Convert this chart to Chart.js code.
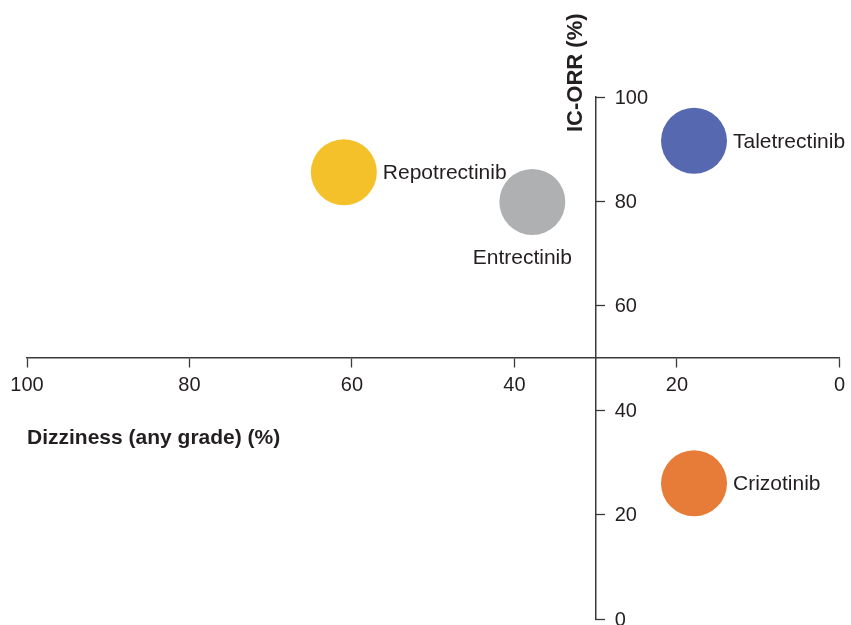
<!DOCTYPE html>
<html>
<head>
<meta charset="utf-8">
<script src="https://cdn.jsdelivr.net/npm/chart.js@4.4.1/dist/chart.umd.min.js"></script>
<style>
  html, body { margin: 0; padding: 0; background: #ffffff; }
  #wrap { width: 851px; height: 625px; }
</style>
</head>
<body>
<div id="wrap"><canvas id="c" width="851" height="625"></canvas></div>
<script>
// ---- Data ----
const drugs = ["Taletrectinib", "Repotrectinib", "Entrectinib", "Crizotinib"];
const dizziness = [17.9, 61.0, 37.8, 17.9];      // x: Dizziness (any grade) (%)
const icOrr = [91.6, 85.6, 79.9, 26.0];         // y: IC-ORR (%)
const xTicks = [100, 80, 60, 40, 20, 0];
const yTicks = [0, 20, 40, 60, 80, 100];
const xTitle = "Dizziness (any grade) (%)";
const yTitle = "IC-ORR (%)";

// ---- Styles ----
const colors = ["#5669B0", "#F5C12B", "#AFB0B2", "#E67C37"];
const labelPlacement = ["right", "right", "below", "right"];
const FONT = "'Liberation Sans', Arial, Helvetica, sans-serif";
const AXIS_COLOR = "#3a3a3a";
const TEXT_COLOR = "#231f20";
const X_CROSS = 30;  // y-axis crosses x at this value
const Y_CROSS = 50;  // x-axis crosses y at this value

const points = drugs.map((d, i) => ({ x: dizziness[i], y: icOrr[i] }));

const overlay = {
  id: 'overlay',
  afterDraw(chart) {
    const ctx = chart.ctx;
    const xs = chart.scales.x, ys = chart.scales.y;
    const axisX = xs.getPixelForValue(X_CROSS);
    const axisY = ys.getPixelForValue(Y_CROSS);
    ctx.save();
    // y tick labels (right of axis)
    ctx.fillStyle = TEXT_COLOR;
    ctx.font = "20px " + FONT;
    ctx.textAlign = "left";
    ctx.textBaseline = "middle";
    ys.ticks.forEach(t => {
      ctx.fillText(String(t.value), axisX + 19, ys.getPixelForValue(t.value) + 1);
    });
    // x title
    ctx.font = "bold 21px " + FONT;
    ctx.textAlign = "left";
    ctx.textBaseline = "middle";
    ctx.fillText(xTitle, xs.left, axisY + 80);
    // y title
    ctx.save();
    ctx.font = "bold 22px " + FONT;
    ctx.translate(axisX - 20, ys.top + 35);
    ctx.rotate(-Math.PI / 2);
    ctx.textAlign = "left";
    ctx.textBaseline = "middle";
    ctx.fillText(yTitle, 0, 0);
    ctx.restore();
    // point labels
    const meta = chart.getDatasetMeta(0);
    ctx.font = "21px " + FONT;
    meta.data.forEach((el, i) => {
      const r = el.options.radius;
      if (labelPlacement[i] === "right") {
        ctx.textAlign = "left";
        ctx.textBaseline = "middle";
        ctx.fillText(drugs[i], el.x + r + 6, el.y + 1);
      } else {
        ctx.textAlign = "center";
        ctx.textBaseline = "middle";
        ctx.fillText(drugs[i], el.x - 10, el.y + 56);
      }
    });
    ctx.restore();
  }
};

new Chart(document.getElementById('c'), {
  type: 'scatter',
  data: {
    datasets: [{
      data: points,
      backgroundColor: colors,
      borderWidth: 0,
      pointRadius: 33,
      pointHoverRadius: 33,
      clip: false
    }]
  },
  options: {
    responsive: false,
    animation: false,
    events: [],
    layout: { autoPadding: false, padding: { left: 27, right: 8, top: 97, bottom: 6 } },
    plugins: { legend: { display: false }, tooltip: { enabled: false } },
    scales: {
      x: {
        type: 'linear',
        reverse: true,
        min: 0, max: 100,
        position: { y: Y_CROSS },
        afterBuildTicks: (s) => { s.ticks = xTicks.map(v => ({ value: v })); },
        ticks: { color: TEXT_COLOR, font: { family: FONT, size: 20 }, padding: 6, maxRotation: 0 },
        grid: { drawOnChartArea: false, drawTicks: true, tickLength: 9, tickColor: AXIS_COLOR, tickWidth: 1.3 },
        border: { display: true, color: AXIS_COLOR, width: 1.5 }
      },
      y: {
        type: 'linear',
        min: 0, max: 100,
        position: { x: X_CROSS },
        afterBuildTicks: (s) => { s.ticks = yTicks.map(v => ({ value: v })); },
        ticks: { display: false },
        grid: { drawOnChartArea: false, drawTicks: true, tickLength: -10, tickColor: AXIS_COLOR, tickWidth: 1.3 },
        border: { display: true, color: AXIS_COLOR, width: 1.5 }
      }
    }
  },
  plugins: [overlay]
});
</script>
</body>
</html>
